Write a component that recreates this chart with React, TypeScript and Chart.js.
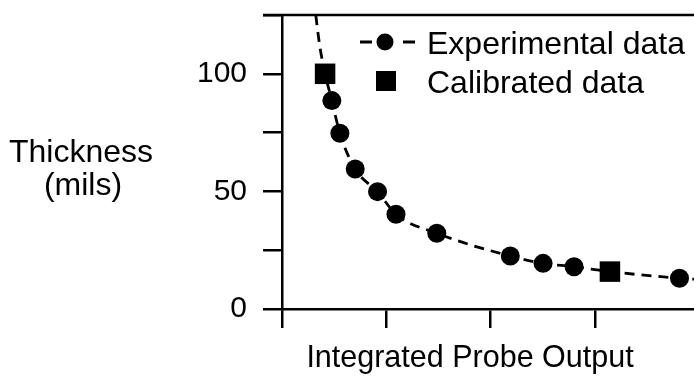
import React, { useEffect, useRef } from 'react';
import { Chart, registerables } from 'chart.js';

Chart.register(...registerables);

// ---- data ----
const expX = [0.478, 0.555, 0.702, 0.916, 1.093, 1.484, 2.189, 2.503, 2.8, 3.811];
const expY = [88.6, 74.7, 59.5, 49.9, 40.3, 32.2, 22.5, 19.4, 18.0, 13.1];
const calX = [0.413, 3.144];
const calY = [100, 15.9];
const curveX = [0.324, 0.34, 0.365, 0.413, 0.478, 0.555, 0.702, 0.916, 1.093, 1.484, 2.189, 2.503, 2.8, 3.144, 3.811, 3.95];
const curveY = [125, 119, 111, 100, 88.6, 74.7, 59.5, 49.9, 40.3, 32.2, 22.5, 19.4, 18.0, 15.9, 13.1, 12.7];
const yLabeledTicks = [0, 50, 100];
const legendLabels = ['Experimental data', 'Calibrated data'];
const yTitleLines = ['Thickness', '(mils)'];
const xTitle = 'Integrated Probe Output';

const FONT = '"Liberation Sans", Arial, Helvetica, sans-serif';

export default function App() {
  const ref = useRef<HTMLCanvasElement>(null);

  useEffect(() => {
    const canvas = ref.current;
    if (!canvas) return;

    const extras = {
      id: 'extras',
      afterDraw(chart: any) {
        const { ctx, chartArea } = chart;
        ctx.save();
        ctx.strokeStyle = '#000';
        ctx.fillStyle = '#000';
        ctx.lineWidth = 2.5;
        // top frame line
        ctx.beginPath();
        ctx.moveTo(chartArea.left - 19, chartArea.top);
        ctx.lineTo(chartArea.right, chartArea.top);
        ctx.stroke();

        // legend row 1: -●-
        const r1 = 42;
        ctx.lineWidth = 2.8;
        ctx.beginPath();
        ctx.moveTo(360, r1);
        ctx.lineTo(372, r1);
        ctx.moveTo(403, r1);
        ctx.lineTo(415, r1);
        ctx.stroke();
        ctx.beginPath();
        ctx.arc(385, r1, 8.5, 0, Math.PI * 2);
        ctx.fill();
        // legend row 2: square
        const r2 = 81;
        ctx.fillRect(376, r2 - 10, 20, 20);

        ctx.font = `32px ${FONT}`;
        ctx.textBaseline = 'alphabetic';
        ctx.textAlign = 'left';
        ctx.fillText(legendLabels[0], 427, 54);
        ctx.fillText(legendLabels[1], 427, 93);

        // y title (horizontal, two lines)
        ctx.textAlign = 'center';
        ctx.fillText(yTitleLines[0], 81, 162);
        ctx.fillText(yTitleLines[1], 83, 195);

        // x title
        ctx.font = `30.5px ${FONT}`;
        ctx.fillText(xTitle, 470, 367);
        ctx.restore();
      },
    };

    const chart = new Chart(canvas, {
      type: 'scatter',
      data: {
        datasets: [
          {
            label: 'fit',
            data: curveX.map((x, i) => ({ x, y: curveY[i] })),
            showLine: true,
            borderColor: '#000',
            borderWidth: 2.8,
            borderDash: [10, 7],
            pointRadius: 0,
            cubicInterpolationMode: 'monotone',
            fill: false,
          } as any,
          {
            label: legendLabels[0],
            data: expX.map((x, i) => ({ x, y: expY[i] })),
            showLine: false,
            pointStyle: 'circle',
            pointRadius: 9.5,
            pointBackgroundColor: '#000',
            pointBorderWidth: 0,
          },
          {
            label: legendLabels[1],
            data: calX.map((x, i) => ({ x, y: calY[i] })),
            showLine: false,
            pointStyle: 'rect',
            pointRadius: 14.5,
            pointBackgroundColor: '#000',
            pointBorderWidth: 0,
          },
        ],
      },
      options: {
        responsive: false,
        animation: false,
        devicePixelRatio: 1,
        layout: { autoPadding: false, padding: { top: 15, left: 0, right: 0, bottom: 0 } },
        plugins: {
          legend: { display: false },
          tooltip: { enabled: false },
        },
        scales: {
          x: {
            type: 'linear',
            min: 0,
            max: 3.95,
            border: { display: true, color: '#000', width: 2.5 },
            grid: { drawOnChartArea: false, drawTicks: true, tickLength: 19, lineWidth: 2.5, color: '#000' },
            ticks: { display: false, stepSize: 1, includeBounds: false },
            afterFit(s: any) {
              s.height = 70;
              s.paddingLeft = 0;
              s.paddingRight = 0;
            },
          },
          y: {
            type: 'linear',
            min: 0,
            max: 125,
            border: { display: true, color: '#000', width: 2.5 },
            grid: { drawOnChartArea: false, drawTicks: true, tickLength: 19, lineWidth: 2.5, color: '#000' },
            ticks: {
              stepSize: 25,
              padding: 16,
              color: '#000',
              font: { family: FONT, size: 30 },
              callback: (v: any) => (yLabeledTicks.includes(Number(v)) ? String(v) : ''),
            },
            afterFit(s: any) {
              s.width = 282;
              s.paddingTop = 0;
              s.paddingBottom = 0;
            },
          },
        },
      } as any,
      plugins: [extras],
    });

    return () => chart.destroy();
  }, []);

  return (
    <div style={{ position: 'fixed', left: 0, top: 0, width: 694, height: 379, background: '#fff' }}>
      <canvas ref={ref} width={694} height={379} style={{ display: 'block' }} />
    </div>
  );
}
